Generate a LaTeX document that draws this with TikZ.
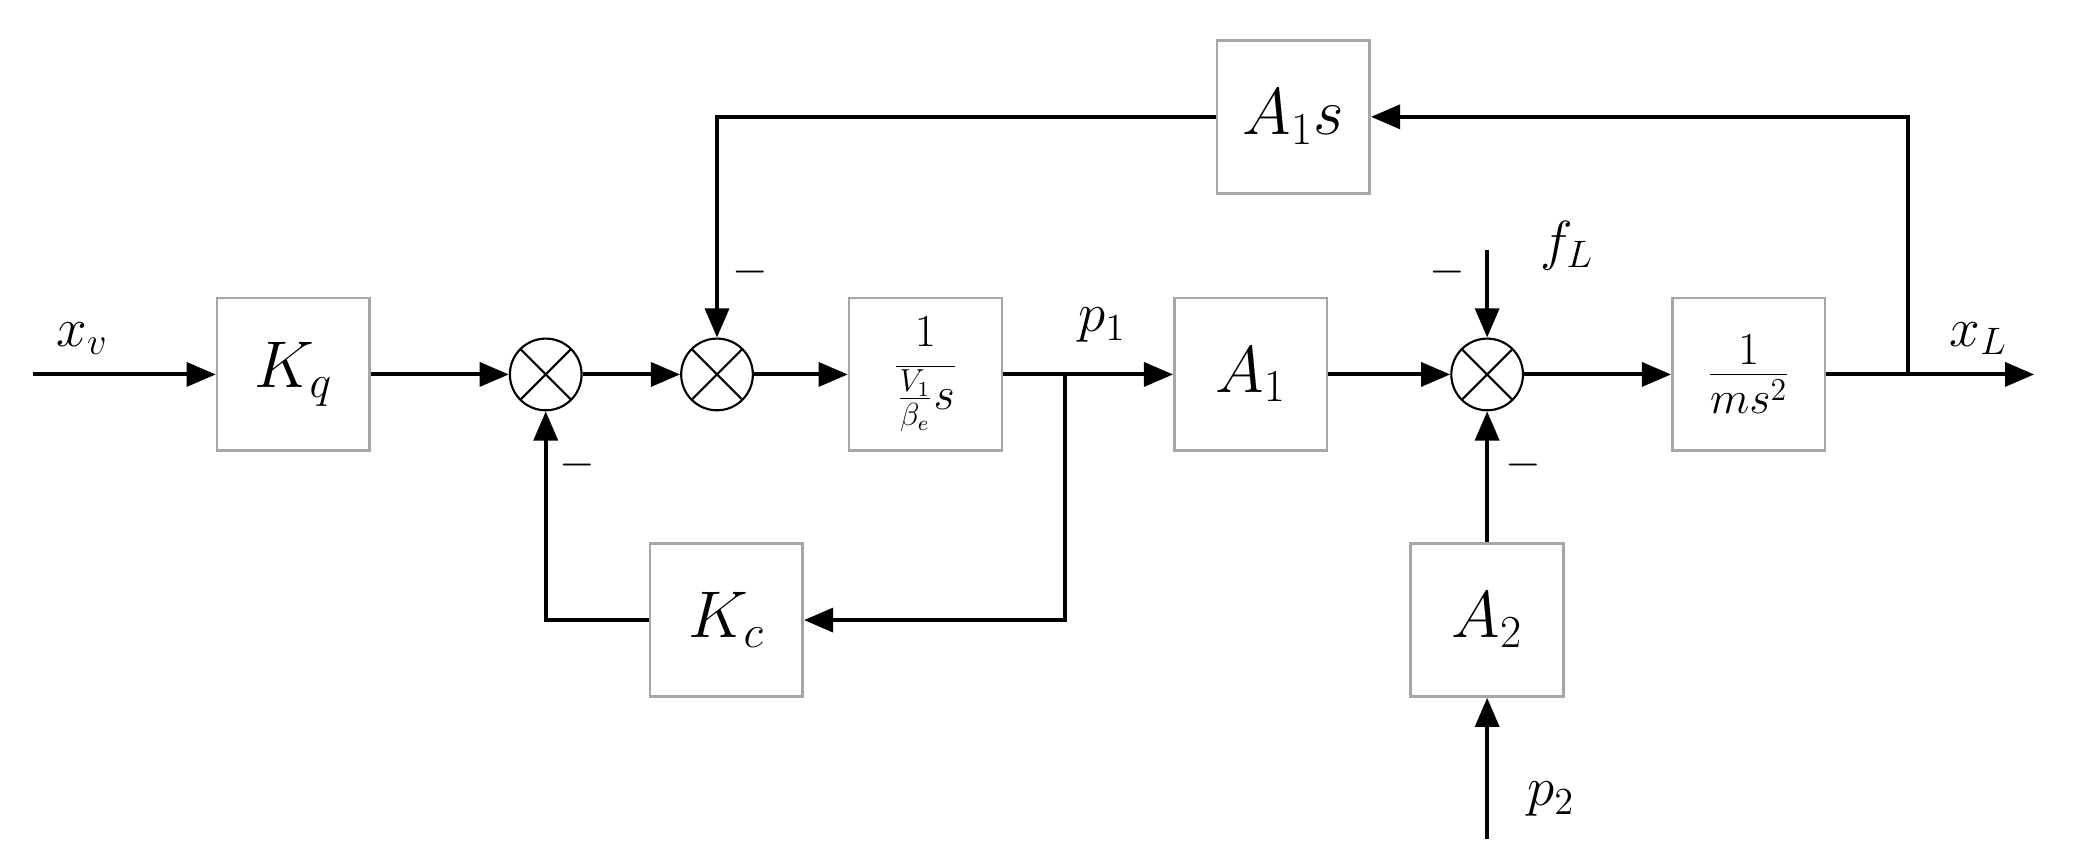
\documentclass[tikz,border=0pt]{standalone}
\usetikzlibrary{arrows.meta}
\begin{document}
\begin{tikzpicture}[x=0.5pt,y=-0.5pt,
  blk/.style={draw=gray!70,line width=1pt,minimum width=57.5pt,minimum height=57.5pt,inner sep=0pt,font=\fontsize{24}{28}\selectfont},
  sum/.style={draw,circle,line width=0.8pt,minimum size=27pt,inner sep=0pt,path picture={\draw[line width=0.8pt] (path picture bounding box.south west)--(path picture bounding box.north east) (path picture bounding box.north west)--(path picture bounding box.south east);}},
  ln/.style={line width=1.5pt},
  ar/.style={ln,-{Triangle[length=11pt,width=9pt]}},
  lab/.style={font=\fontsize{20}{24}\selectfont},
  mn/.style={font=\fontsize{16}{20}\selectfont}]
\useasboundingbox (0,0) rectangle (1568,652);
\coordinate (in) at (25,282);
\node[blk] (kq) at (221,282) {$K_q$};
\node[sum] (s1) at (411,282) {};
\node[sum] (s2) at (540,282) {};
\node[blk] (g) at (697,282) {\fontsize{17}{20}\selectfont$\displaystyle\frac{1}{\frac{V_1}{\beta_e}s}$};
\node[blk] (a1) at (942,282) {$A_1$};
\node[blk] (kc) at (547,467) {$K_c$};
\node[sum] (s3) at (1120,282) {};
\node[blk] (a2) at (1120,467) {$A_2$};
\node[blk] (m) at (1317,282) {$\frac{1}{ms^2}$};
\node[blk] (a1s) at (974,88) {$A_1s$};
\coordinate (out) at (1532,282);
\coordinate (b1) at (802,282);
\coordinate (b2) at (1437,282);
\coordinate (fl) at (1120,188);
\coordinate (p2) at (1120,632);
\draw[ar] (in)--(kq);
\draw[ar] (kq)--(s1);
\draw[ar] (s1)--(s2);
\draw[ar] (s2)--(g);
\draw[ar] (g)--(a1);
\draw[ar] (b1)|-(kc);
\draw[ar] (kc)-|(s1);
\draw[ar] (a1)--(s3);
\draw[ar] (fl)--(s3);
\draw[ar] (a2)--(s3);
\draw[ar] (p2)--(a2);
\draw[ar] (s3)--(m);
\draw[ar] (m)--(out);
\draw[ar] (b2)|-(a1s);
\draw[ar] (a1s)-|(s2);
\node[lab] (lxv) at (62,255) {$x_v$};
\node[lab] (lp1) at (830,245) {$p_1$};
\node[lab] (lfl) at (1180,185) {$f_L$};
\node[lab] (lp2) at (1168,602) {$p_2$};
\node[lab] (lxl) at (1490,255) {$x_L$};
\node[mn] (m1) at (565,205) {$-$};
\node[mn] (m2) at (435,350) {$-$};
\node[mn] (m3) at (1090,205) {$-$};
\node[mn] (m4) at (1147,350) {$-$};
\end{tikzpicture}
\end{document}
